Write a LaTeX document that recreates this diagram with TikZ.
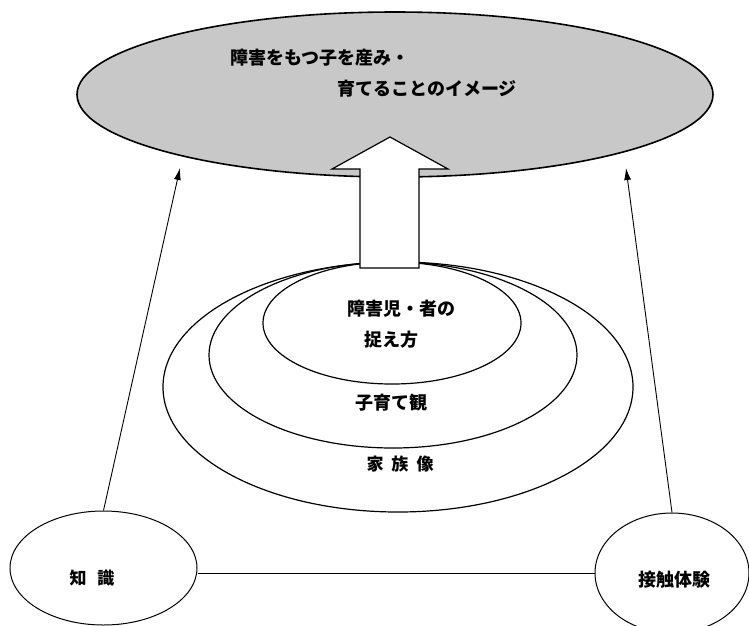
\documentclass[tikz,border=0pt]{standalone}
\usepackage{fontspec}
\setmainfont{Noto Sans CJK JP}
\usetikzlibrary{shapes.geometric, arrows.meta, positioning}
\definecolor{cImageFill}{RGB}{200, 200, 200}
\definecolor{lineColor}{RGB}{0, 0, 0}
\tikzset{
    % --- 基础椭圆 ---
    baseEll/.style={
        ellipse, draw=lineColor, line width=1.2pt, inner sep=0pt
    },
    % 顶部 (Image)
    styleImage/.style={
        baseEll, fill=cImageFill, line width=1.6pt
    },
    % 底部 (Source)
    styleSrc/.style={
        baseEll, line width=1pt
    },
    % --- 文本 ---
    styleTxt/.style={
        font=\bfseries\fontsize{18pt}{21pt}\selectfont, inner sep=0pt, text=black
    },
    % --- 连线 ---
    conn/.style={
        draw=lineColor, line width=0.9pt,
        -{Latex[length=12pt, width=7pt]}
    },
    link/.style={
        draw=lineColor, line width=1pt
    },
    blockArrow/.style={
        draw=lineColor, fill=white, line width=1.2pt, line join=miter
    }
}
\begin{document}
\begin{tikzpicture}[x=1pt, y=-1pt]

	\useasboundingbox (0,0) rectangle (749,625);

	% =========================================================
	% 1. 顶部椭圆 (Image)
	% =========================================================
	\node [styleImage, minimum width=636pt, minimum height=165pt] (image) at (395,94.5) {};
	\node [styleTxt, anchor=west] (img1) at (230,58) {障害をもつ子を産み・};
	\node [styleTxt, anchor=west] (img2) at (337,89) {育てることのイメージ};

	% =========================================================
	% 2. 同心椭圆 (Layers)
	% =========================================================
	\node [baseEll, minimum width=470pt, minimum height=250pt] (family) at (398,387) {};
	\node [baseEll, minimum width=368pt, minimum height=186pt] (rearing) at (393,355) {};
	\node [baseEll, minimum width=258pt, minimum height=122pt] (view) at (392,323) {};

	\node [styleTxt] (t_view1) at (401,309) {障害児・者の};
	\node [styleTxt] (t_view2) at (391.5,340) {捉え方};
	\node [styleTxt] (t_rearing) at (391.5,403) {子育て観};
	\node [styleTxt, font=\bfseries\fontsize{17pt}{20pt}\selectfont] (t_family) at (400,464) {家\hspace{8pt}族\hspace{8pt}像};

	% =========================================================
	% 3. 大箭头 (Block arrow)
	% =========================================================
	\draw [blockArrow] (360,268) -- (360,169) -- (332,169) -- (390,137)
		-- (448,169) -- (419,169) -- (419,268) -- cycle;

	% =========================================================
	% 4. 底部椭圆 (Sources)
	% =========================================================
	\node [styleSrc, minimum width=187pt, minimum height=114pt] (chishiki) at (103.5,568) {};
	\node [styleSrc, minimum width=154pt, minimum height=120pt] (sesshoku) at (672,573) {};

	\node [styleTxt, font=\bfseries\fontsize{17pt}{20pt}\selectfont] (t_chishiki) at (92,578) {知\hspace{11pt}識};
	\node [styleTxt] (t_sesshoku) at (674,580) {接触体験};

	% =========================================================
	% 5. 连线
	% =========================================================
	\coordinate (tipL) at (180,168);
	\coordinate (tipR) at (626,168);
	\draw [conn] (chishiki.north) -- (tipL);
	\draw [conn] (sesshoku.north) -- (tipR);
	\draw [link] (chishiki.east |- sesshoku.west) -- (sesshoku.west);

\end{tikzpicture}
\end{document}
